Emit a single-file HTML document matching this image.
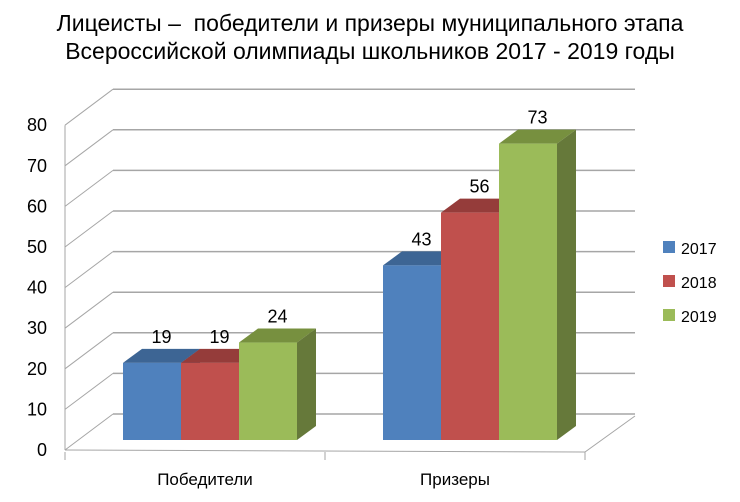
<!DOCTYPE html>
<html><head><meta charset="utf-8"><style>
body{margin:0;background:#fff;}
svg{display:block;font-family:"Liberation Sans",Arial,sans-serif;}
</style></head><body>
<svg width="740" height="502" viewBox="0 0 740 502">
<g id="title">
<text x="370" y="31" text-anchor="middle" font-size="23" fill="#000" xml:space="preserve">Лицеисты –  победители и призеры муниципального этапа</text>
<text x="370" y="59" text-anchor="middle" font-size="23" fill="#000">Всероссийской олимпиады школьников 2017 - 2019 годы</text>
</g>
<g id="grid"></g>
<g id="bars"></g>
<g id="legend"></g>
</svg>
<script>
const categories=["Победители","Призеры"];
const years=["2017","2018","2019"];
const s2017=[19,43];
const s2018=[19,56];
const s2019=[24,73];
const yTicks=[0,10,20,30,40,50,60,70,80];
const series=[s2017,s2018,s2019];
const colors=[["#4f81bd","#3d6594","#385d8a"],["#c0504d","#953c3a","#8c3836"],["#9bbb59","#77903f","#66793a"]];
const NS="http://www.w3.org/2000/svg";
function mk(t,a,p){const e=document.createElementNS(NS,t);for(const k in a)e.setAttribute(k,a[k]);p.appendChild(e);return e;}
const x0=65,y0=450,pxPer=4.06,dx=48,dy=36;
function y(v){return y0-v*pxPer;}
const grid=document.getElementById('grid');
for(const t of yTicks){
  const yy=y(t);
  const l1=mk('line',{x1:x0,y1:yy,x2:x0+dx,y2:yy-dy,stroke:'#a6a6a6','stroke-width':1},grid);
  
  
  const l2=mk('line',{x1:x0+dx,y1:yy-dy,x2:635,y2:yy-dy,stroke:'#a6a6a6','stroke-width':1.5},grid);
  
  
  const tx=mk('text',{x:47,y:yy+6,'text-anchor':'end','font-size':18,fill:'#000'},grid);
  tx.textContent=t;
  
  
}
const ax=mk('line',{x1:x0,y1:y(80),x2:x0,y2:y0,stroke:'#a6a6a6'},grid);


const fl=mk('path',{d:`M${x0} ${y0} L585 452 L635 416 M65 452 v8 M325 452 v8 M585 452 v8`,stroke:'#a6a6a6',fill:'none'},grid);


const bars=document.getElementById('bars');
const groupStart=[123,383],bw=58,bdx=19,bdy=14,base=440;
const catX=[205,455];
categories.forEach((c,ci)=>{
  const t=mk('text',{x:catX[ci],y:485,'text-anchor':'middle','font-size':17,fill:'#000'},bars);
  t.textContent=c;
  
  
  series.forEach((s,si)=>{
    const v=s[ci],bx=groupStart[ci]+si*bw,top=base-v*pxPer;
    const g=mk('g',{},bars);
    
    
    mk('polygon',{points:`${bx},${top} ${bx+bdx},${top-bdy} ${bx+bw+bdx},${top-bdy} ${bx+bw},${top}`,fill:colors[si][1]},g);
    mk('polygon',{points:`${bx+bw},${top} ${bx+bw+bdx},${top-bdy} ${bx+bw+bdx},${base-bdy} ${bx+bw},${base}`,fill:colors[si][2]},g);
    mk('rect',{x:bx,y:top,width:bw,height:base-top,fill:colors[si][0]},g);
    const lb=mk('text',{x:bx+bw/2+bdx/2,y:top-bdy-6,'text-anchor':'middle','font-size':18,fill:'#000'},bars);
    lb.textContent=v;
    
    
  });
});
const lg=document.getElementById('legend');
years.forEach((yr,i)=>{
  const g=mk('g',{},lg);
  
  
  mk('rect',{x:663,y:241+i*34,width:12,height:12,fill:colors[i][0]},g);
  const t=mk('text',{x:681,y:254+i*34,'font-size':16,fill:'#000'},g);
  t.textContent=yr;
});
</script>
</body></html>
